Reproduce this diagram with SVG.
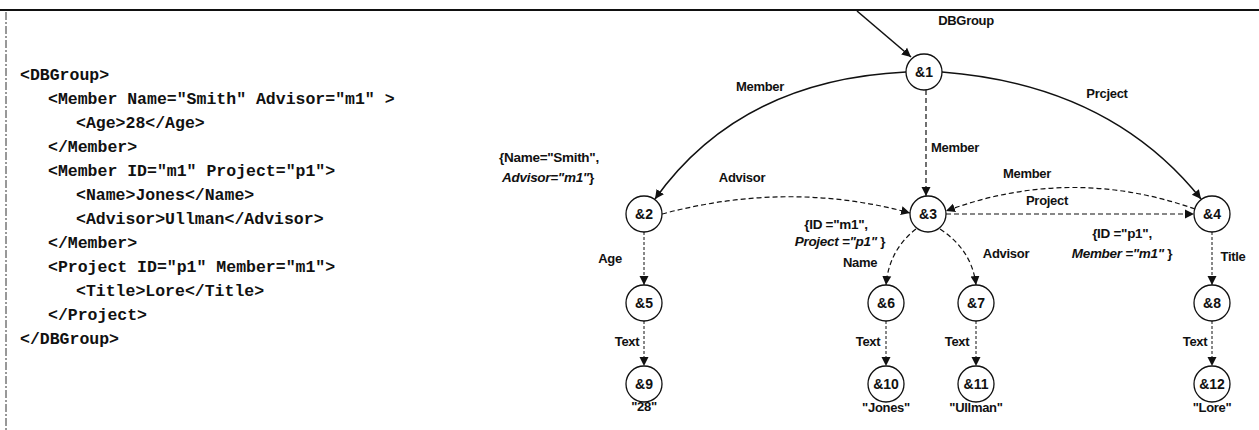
<svg xmlns="http://www.w3.org/2000/svg" width="1259" height="430" viewBox="0 0 1259 430">
  <style>
    .code { font-family: "Liberation Mono", "DejaVu Sans Mono", monospace; font-size: 16.5px; font-weight: bold; fill: #111; }
    .lbl { font-family: "Liberation Sans", Arial, sans-serif; font-size: 13px; font-weight: bold; fill: #111; letter-spacing: -0.3px; }
    .attr { font-size: 13.5px; }
    .mid { text-anchor: middle; }
    .it { font-style: italic; }
    .node circle { fill: #fff; stroke: #111; stroke-width: 1.3; }
    .node text { font-family: "Liberation Sans", Arial, sans-serif; font-size: 14px; font-weight: bold; fill: #111; text-anchor: middle; }
    .solid { fill: none; stroke: #111; stroke-width: 1.6; marker-end: url(#arr); }
    .dash { fill: none; stroke: #111; stroke-width: 1.2; stroke-dasharray: 5 3; marker-end: url(#arr); }
    .dot { fill: none; stroke: #111; stroke-width: 1; stroke-dasharray: 3 2; marker-end: url(#arr); }
  </style>
  <defs>
    <marker id="arr" viewBox="0 0 10 10" refX="10" refY="5" markerWidth="9" markerHeight="11" markerUnits="userSpaceOnUse" orient="auto">
      <path d="M0,0 L10,5 L0,10 z" fill="#111"/>
    </marker>
  </defs>

  <rect width="1259" height="430" fill="#fff"/>

  <!-- frame -->
  <line x1="0" y1="10" x2="1259" y2="10" stroke="#111" stroke-width="2"/>
  <line x1="6" y1="12" x2="6" y2="430" stroke="#333" stroke-width="1" stroke-dasharray="8 2 2 2"/>

  <!-- XML source listing -->
  <g id="xml-source" class="code">
    <text x="20" y="80">&lt;DBGroup&gt;</text>
    <text x="48" y="104">&lt;Member Name="Smith" Advisor="m1" &gt;</text>
    <text x="76" y="128">&lt;Age&gt;28&lt;/Age&gt;</text>
    <text x="48" y="152">&lt;/Member&gt;</text>
    <text x="48" y="176">&lt;Member ID="m1" Project="p1"&gt;</text>
    <text x="76" y="200">&lt;Name&gt;Jones&lt;/Name&gt;</text>
    <text x="76" y="224">&lt;Advisor&gt;Ullman&lt;/Advisor&gt;</text>
    <text x="48" y="248">&lt;/Member&gt;</text>
    <text x="48" y="272">&lt;Project ID="p1" Member="m1"&gt;</text>
    <text x="76" y="296">&lt;Title&gt;Lore&lt;/Title&gt;</text>
    <text x="48" y="320">&lt;/Project&gt;</text>
    <text x="20" y="344">&lt;/DBGroup&gt;</text>
  </g>

  <!-- edges -->
  <g id="connectors">
    <line class="solid" x1="857" y1="11" x2="911" y2="57"/>
    <path class="solid" d="M906,72 Q740,80 655,199"/>
    <path class="solid" d="M942,72 Q1110,85 1201,199"/>
    <line class="dash" x1="926" y1="90" x2="926" y2="196"/>
    <path class="dash" d="M662,214 Q790,180 910,213"/>
    <path class="dash" d="M1195,209 Q1070,165 946,211"/>
    <line class="dash" x1="946" y1="214" x2="1194" y2="214"/>
    <line class="dot" x1="644" y1="232" x2="644" y2="285"/>
    <path class="dash" d="M916,229 Q889,250 886,285"/>
    <path class="dash" d="M940,229 Q972,250 976,285"/>
    <line class="dot" x1="1212" y1="232" x2="1212" y2="285"/>
    <line class="dot" x1="644" y1="321" x2="644" y2="366"/>
    <line class="dot" x1="886" y1="321" x2="886" y2="366"/>
    <line class="dot" x1="976" y1="321" x2="976" y2="366"/>
    <line class="dot" x1="1212" y1="321" x2="1212" y2="366"/>
  </g>

  <!-- edge labels -->
  <g id="edge-labels" class="lbl">
    <text class="mid" x="966" y="25">DBGroup</text>
    <text class="mid" x="760" y="91">Member</text>
    <text class="mid" x="1107" y="98">Prcject</text>
    <text x="931" y="152">Member</text>
    <text class="mid" x="742" y="182">Advisor</text>
    <text class="mid" x="1027" y="178">Member</text>
    <text class="mid" x="1047" y="205">Project</text>
    <text class="mid" x="610" y="263">Age</text>
    <text class="mid" x="860" y="267">Name</text>
    <text class="mid" x="1006" y="258">Advisor</text>
    <text class="mid" x="1233" y="261">Title</text>
    <text class="mid" x="627" y="346">Text</text>
    <text class="mid" x="868" y="346">Text</text>
    <text class="mid" x="957" y="346">Text</text>
    <text class="mid" x="1195" y="346">Text</text>
  </g>

  <!-- attribute annotations -->
  <g id="attrs" class="lbl attr">
    <text class="mid" x="549" y="162">{Name="Smith",</text>
    <text class="mid" x="548" y="182"><tspan class="it">Advisor="m1"</tspan>}</text>
    <text class="mid" x="836" y="229">{ID ="m1",</text>
    <text class="mid" x="840" y="246"><tspan class="it">Project ="p1"</tspan> }</text>
    <text class="mid" x="1122" y="238">{ID ="p1",</text>
    <text class="mid" x="1122" y="258"><tspan class="it">Member ="m1"</tspan> }</text>
  </g>

  <!-- leaf values -->
  <g id="values" class="lbl">
    <text class="mid" x="644" y="411">"28"</text>
    <text class="mid" x="886" y="412">"Jones"</text>
    <text class="mid" x="976" y="412">"Ullman"</text>
    <text class="mid" x="1212" y="412">"Lore"</text>
  </g>

  <!-- nodes -->
  <g id="n1" class="node"><circle cx="924" cy="72" r="18"/><text x="924" y="77">&amp;1</text></g>
  <g id="n2" class="node"><circle cx="644" cy="214" r="18"/><text x="644" y="219">&amp;2</text></g>
  <g id="n3" class="node"><circle cx="928" cy="214" r="18"/><text x="928" y="219">&amp;3</text></g>
  <g id="n4" class="node"><circle cx="1212" cy="214" r="18"/><text x="1212" y="219">&amp;4</text></g>
  <g id="n5" class="node"><circle cx="644" cy="303" r="18"/><text x="644" y="308">&amp;5</text></g>
  <g id="n6" class="node"><circle cx="886" cy="303" r="18"/><text x="886" y="308">&amp;6</text></g>
  <g id="n7" class="node"><circle cx="976" cy="303" r="18"/><text x="976" y="308">&amp;7</text></g>
  <g id="n8" class="node"><circle cx="1212" cy="303" r="18"/><text x="1212" y="308">&amp;8</text></g>
  <g id="n9" class="node"><circle cx="644" cy="384" r="18"/><text x="644" y="389">&amp;9</text></g>
  <g id="n10" class="node"><circle cx="886" cy="384" r="18"/><text x="886" y="389">&amp;10</text></g>
  <g id="n11" class="node"><circle cx="976" cy="384" r="18"/><text x="976" y="389">&amp;11</text></g>
  <g id="n12" class="node"><circle cx="1212" cy="384" r="18"/><text x="1212" y="389">&amp;12</text></g>
</svg>
